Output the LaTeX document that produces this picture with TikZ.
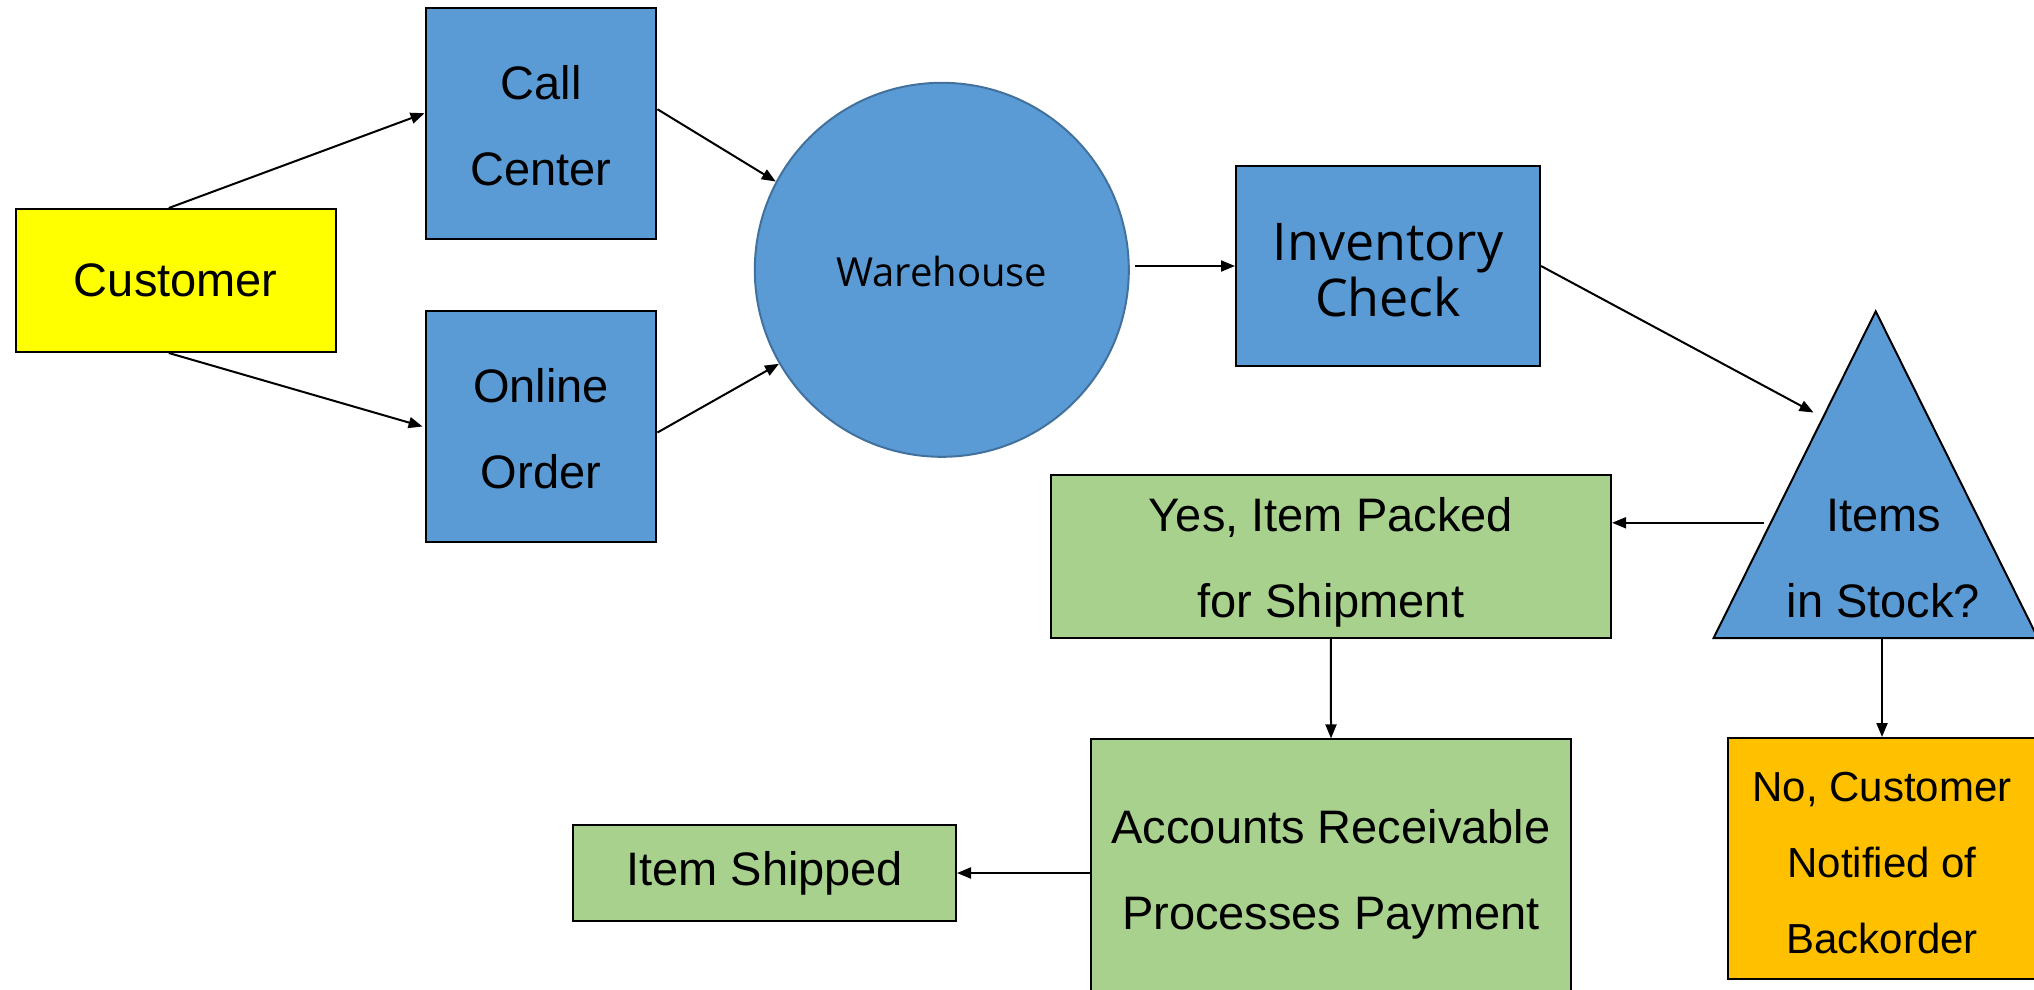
\documentclass[tikz,border=0pt]{standalone}
\usepackage{fontspec}
\setmainfont{Liberation Sans}
\newfontfamily\osans{Open Sans}
\usetikzlibrary{arrows.meta,calc}
\definecolor{boxblue}{HTML}{5B9BD5}
\definecolor{rimblue}{HTML}{41719C}
\definecolor{custyellow}{HTML}{FFFF00}
\definecolor{boxgreen}{HTML}{A9D18E}
\definecolor{boxorange}{HTML}{FFC000}
\newcommand{\lift}[1]{\rule{0pt}{#1pt}}
\begin{document}
\begin{tikzpicture}[x=1pt,y=-1pt,
  box/.style={draw=black,line width=2pt,inner sep=0pt,align=center},
  conn/.style={line width=2pt,-{Triangle[length=14pt,width=11pt]}},
  big/.style={font=\fontsize{47}{86}\selectfont},
  ]
\useasboundingbox (0,0) rectangle (2034,990);
% nodes
\node[box,fill=custyellow,minimum width=320.4pt,minimum height=143pt,big] (cust) at (175.8,280.5) {Customer};
\node[box,fill=boxblue,minimum width=230.9pt,minimum height=230.9pt,big] (call) at (541,123.25) {\lift{38}Call\\Center};
\node[box,fill=boxblue,minimum width=230.9pt,minimum height=231pt,big] (online) at (541,426.5) {\lift{38}Online\\Order};
\node[circle,draw=rimblue,line width=2pt,fill=boxblue,minimum size=374pt,inner sep=0pt,font=\osans\fontsize{40}{46}\selectfont] (wh) at (941.8,269.8) {\lift{34}Warehouse};
\node[box,fill=boxblue,minimum width=304pt,minimum height=200pt,font=\osans\fontsize{52}{56}\selectfont] (ic) at (1388,266) {\lift{45}Inventory\\Check};
\draw[line width=2pt,fill=boxblue] (1875.7,311.3) -- (1713.6,638) -- (2037.8,638) -- cycle;
\node[align=center,inner sep=0pt,big] (tri) at (1883.5,558.5) {Items\\in Stock?};
\node[box,fill=boxgreen,minimum width=560.3pt,minimum height=163.4pt,big] (yes) at (1330.9,556.5) {\lift{45}Yes, Item Packed\\for Shipment};
\node[box,fill=boxgreen,minimum width=480pt,minimum height=260.6pt,big] (acc) at (1331,869.7) {\lift{43}Accounts Receivable\\Processes Payment};
\node[box,fill=boxgreen,minimum width=382.6pt,minimum height=96pt,big] (ship) at (764.7,873) {Item Shipped};
\node[box,fill=boxorange,minimum width=308pt,minimum height=241pt,align=center,font=\fontsize{42}{76}\selectfont] (no) at (1882,858.5) {\lift{38}No, Customer\\Notified of\\Backorder};
% connector ends on the triangle
\coordinate (triIn) at (1813.5,412.5);
\coordinate (triOut) at (1764,522.8);
\coordinate (triBot) at (1882,638);
% connectors
\draw[conn] ([xshift=-7pt]cust.north) -- ([yshift=10pt]call.west);
\draw[conn] ([xshift=-7pt]cust.south) -- ([xshift=-2pt]online.west);
\draw[conn] ([yshift=14pt]call.east) -- (wh.152);
\draw[conn] ([yshift=-6pt]online.east) -- (wh.210);
\draw[conn] ([xshift=5pt]wh.east |- ic.west) -- (ic.west);
\draw[conn] (ic.east) -- (triIn);
\draw[conn] (triOut) -- (triOut -| yes.east);
\draw[conn] (yes.south) -- (acc.north);
\draw[conn] (triBot) -- (no.north);
\draw[conn] (acc.west |- ship.east) -- (ship.east);
\end{tikzpicture}
\end{document}
